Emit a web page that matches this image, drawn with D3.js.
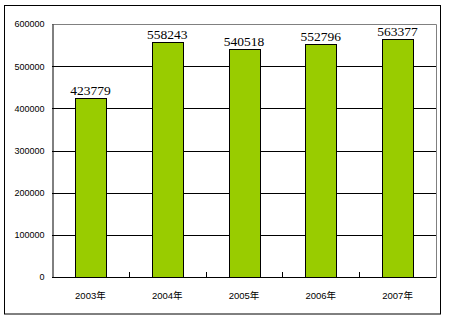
<!DOCTYPE html>
<html lang="zh">
<head>
<meta charset="utf-8">
<script src="https://cdn.jsdelivr.net/npm/d3@7/dist/d3.min.js"></script>
<title>2003-2007</title>
<style>
body{margin:0;background:#fff;}
svg{display:block;}
</style>
</head>
<body>
<svg width="450" height="320"></svg>
<script>
var years = ["2003年","2004年","2005年","2006年","2007年"];
var values = [423779, 558243, 540518, 552796, 563377];
var yTicks = [0,100000,200000,300000,400000,500000,600000];

var plotL = 52, plotR = 436, plotT = 24, plotB = 277;
var svg = d3.select("svg");

// outer frame
svg.append("rect")
.attr("x",4.5).attr("y",5.5)
.attr("width",436).attr("height",308.5)
.attr("fill","none").attr("stroke","#000").attr("stroke-width",1);

var x = d3.scaleBand().domain(years).range([plotL,plotR]);
var y = d3.scaleLinear().domain([0,600000]).range([plotB,plotT]);

// gridlines
svg.selectAll("line.grid")
.data(yTicks.filter(function(d){return d>0 && d<600000;})).enter()
.append("line")
.attr("class","grid")
.attr("x1",plotL).attr("x2",plotR)
.attr("y1",function(d){return Math.round(y(d))+0.5;})
.attr("y2",function(d){return Math.round(y(d))+0.5;})
.attr("stroke","#000").attr("stroke-width",1);

// gray plot border top + right
svg.append("path")
.attr("d","M"+plotL+","+(plotT+0.5)+"H"+(plotR+0.5)+"V"+plotB)
.attr("fill","none").attr("stroke","#808080").attr("stroke-width",1);

// bars
svg.selectAll("rect.bar")
.data(values).enter()
.append("rect")
.attr("class","bar")
.attr("x",function(d,i){return Math.round(x(years[i])+x.bandwidth()*0.3)+0.5;})
.attr("width",Math.round(x.bandwidth()*0.4))
.attr("y",function(d){return Math.round(y(d))+0.5;})
.attr("height",function(d){return plotB-Math.round(y(d));})
.attr("fill","#99cc00").attr("stroke","#000").attr("stroke-width",1);

// value labels
svg.selectAll("text.val")
.data(values).enter()
.append("text")
.attr("class","val")
.attr("x",function(d,i){return x(years[i])+x.bandwidth()/2;})
.attr("y",function(d){return y(d)-3;})
.attr("text-anchor","middle")
.attr("font-family","'Liberation Serif', serif")
.attr("font-size",13.5)
.attr("fill","#000")
.text(function(d){return d;});

// y axis
var yAxis = d3.axisLeft(y).tickValues(yTicks).tickSize(0).tickPadding(8)
.tickFormat(function(d){return d;});
var gy = svg.append("g").attr("transform","translate("+(plotL+0.5)+",0)").call(yAxis);
gy.select(".domain").attr("stroke","#000");
gy.selectAll("text").attr("font-family","'Liberation Sans', sans-serif").attr("font-size",9).attr("fill","#000");

// x axis with inward ticks at band boundaries
svg.append("line")
.attr("x1",plotL).attr("x2",plotR+0.5)
.attr("y1",plotB+0.5).attr("y2",plotB+0.5)
.attr("stroke","#000");
svg.selectAll("line.xt")
.data(years.slice(1)).enter()
.append("line")
.attr("class","xt")
.attr("x1",function(d){return Math.round(x(d))+0.5;})
.attr("x2",function(d){return Math.round(x(d))+0.5;})
.attr("y1",plotB-5).attr("y2",plotB)
.attr("stroke","#000");

svg.selectAll("text.xl")
.data(years).enter()
.append("text")
.attr("class","xl")
.attr("x",function(d){return x(d)+x.bandwidth()/2;})
.attr("y",299)
.attr("text-anchor","middle")
.attr("font-family","'Liberation Sans', 'Noto Sans CJK SC', sans-serif")
.attr("font-size",9.5)
.attr("fill","#000")
.text(function(d){return d;});
</script>
</body>
</html>
